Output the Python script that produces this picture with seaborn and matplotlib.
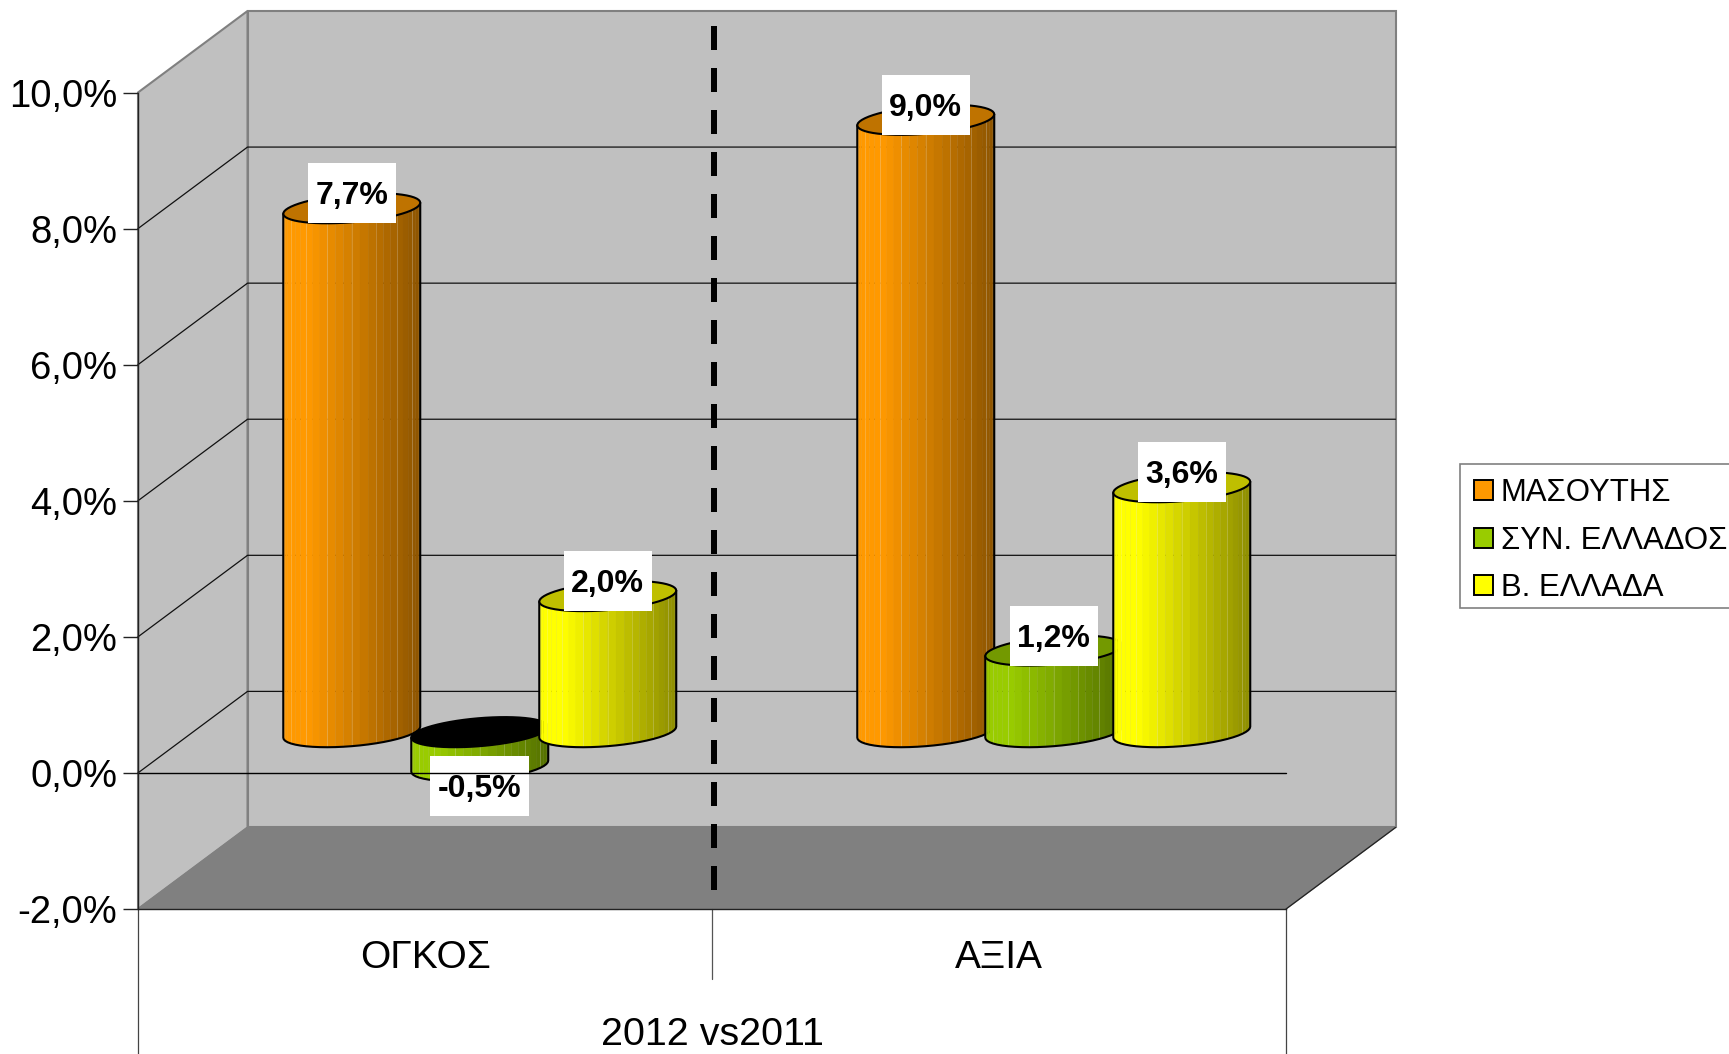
import numpy as np
import pandas as pd
import seaborn as sns
import matplotlib
matplotlib.use("Agg")
import matplotlib.pyplot as plt
from matplotlib.colors import to_rgb
from matplotlib.patches import Rectangle
from matplotlib.transforms import IdentityTransform

# Data
measures = ["ΟΓΚΟΣ", "ΑΞΙΑ"]
regions = ["ΜΑΣΟΥΤΗΣ", "ΣΥΝ. ΕΛΛΑΔΟΣ", "Β. ΕΛΛΑΔΑ"]
masoutis = [7.7, 9.0]
syn_ellados = [-0.5, 1.2]
v_ellada = [2.0, 3.6]
y_ticks = [-2, 0, 2, 4, 6, 8, 10]
region_colors = ["#FF9900", "#99CC00", "#FFFF00"]
x_title = "2012 vs2011"

# fake 3d box, all in data units
DEPTH_X = 0.1908
DEPTH_Y = 1.198
ELL_B = 0.206
ELL_S = 0.081
WALL = "#C0C0C0"
FLOOR = "#808080"
N_FACETS = 26


def pct(v):
    return f"{v:.1f}%".replace(".", ",")


def cylinder(ax, cx, half, lo, hi, color, top_color, z):
    # body as vertical facets, darker to the right
    base = np.array(to_rgb(color))
    t = np.linspace(np.pi, 2 * np.pi, N_FACETS + 1)
    xs = cx + half * np.cos(t)
    low = lo + ELL_B * np.sin(t) + ELL_S * np.cos(t)
    high = hi + ELL_B * np.sin(t) + ELL_S * np.cos(t)
    for i in range(N_FACETS):
        f = (xs[i] + xs[i + 1] - 2 * (cx - half)) / (4 * half)
        shade = 1 if f < 0.18 else 1 - (f - 0.18) / 0.82 * 0.45
        ax.fill([xs[i], xs[i + 1], xs[i + 1], xs[i]],
                [low[i], low[i + 1], high[i + 1], high[i]],
                color=base * shade, lw=0.2, zorder=z, clip_on=False)
        if i % 3 == 1:
            ax.plot([xs[i], xs[i]], [low[i], high[i]], color="white", lw=0.5,
                    alpha=0.25, zorder=z, clip_on=False)
    ax.plot(np.r_[xs[0], xs, xs[-1]], np.r_[high[0], low, high[-1]],
            color="black", lw=1.5, zorder=z, clip_on=False)
    # top lid
    t2 = np.linspace(0, 2 * np.pi, 60)
    ax.fill(cx + half * np.cos(t2),
            hi + ELL_B * np.sin(t2) + ELL_S * np.cos(t2),
            facecolor=top_color, edgecolor="black", lw=1.5, zorder=z, clip_on=False)


sns.set_style("white")
plt.rcParams["font.family"] = "Liberation Sans"
plt.rcParams["text.color"] = "black"
plt.rcParams["axes.labelcolor"] = "black"
plt.rcParams["xtick.color"] = "black"
plt.rcParams["ytick.color"] = "black"

df = pd.DataFrame({
    "measure": measures * 3,
    "region": np.repeat(regions, 2),
    "value": masoutis + syn_ellados + v_ellada,
})

fig = plt.figure(figsize=(17.29, 10.54), dpi=100)
ax = fig.add_axes([138 / 1729, (1054 - 909) / 1054, 1148 / 1729, 816.5 / 1054])
ax.patch.set_visible(False)

sns.barplot(data=df, x="measure", y="value", hue="region", hue_order=regions,
            palette=region_colors, saturation=1, width=0.669, errorbar=None,
            edgecolor="black", linewidth=1.4, ax=ax)
ax.set_xlim(-0.5, 1.5)
ax.set_ylim(y_ticks[0], y_ticks[-1])
x0, x1 = ax.get_xlim()
y0, y1 = ax.get_ylim()

# walls and floor
ax.fill([x0 + DEPTH_X, x1 + DEPTH_X, x1 + DEPTH_X, x0 + DEPTH_X],
        [y0 + DEPTH_Y, y0 + DEPTH_Y, y1 + DEPTH_Y, y1 + DEPTH_Y],
        facecolor=WALL, edgecolor=FLOOR, lw=1.5, zorder=0.5, clip_on=False)
ax.fill([x0, x0 + DEPTH_X, x0 + DEPTH_X, x0],
        [y0, y0 + DEPTH_Y, y1 + DEPTH_Y, y1],
        facecolor=WALL, edgecolor=FLOOR, lw=1.5, zorder=0.5, clip_on=False)
ax.fill([x0, x1, x1 + DEPTH_X, x0 + DEPTH_X],
        [y0, y0, y0 + DEPTH_Y, y0 + DEPTH_Y],
        facecolor=FLOOR, edgecolor=FLOOR, lw=1, zorder=0.6, clip_on=False)
ax.plot([x1, x1 + DEPTH_X], [y0, y0 + DEPTH_Y], color="#222222", lw=0.9,
        zorder=0.7, clip_on=False)

# gridlines on the back and side wall
for y in y_ticks[1:-1]:
    ax.plot([x0, x0 + DEPTH_X, x1 + DEPTH_X], [y, y + DEPTH_Y, y + DEPTH_Y],
            color="#111111", lw=0.9, zorder=0.8, clip_on=False)

# swap the flat seaborn bars for cylinders, left to right
bars = [b for c in ax.containers for b in c]
for b in bars:
    b.set_visible(False)
bars = sorted(bars, key=lambda b: b.get_x())
renderer = fig.canvas.get_renderer()
px_x = ax.transData.transform((1, 0))[0] - ax.transData.transform((0, 0))[0]
px_y = ax.transData.transform((0, 1))[1] - ax.transData.transform((0, 0))[1]
for i, b in enumerate(bars):
    v = b.get_y() + b.get_height()
    cx = b.get_x() + b.get_width() / 2 + DEPTH_X / 2
    half = b.get_width() / 2 * 1.07
    color = to_rgb(b.get_facecolor()[:3])
    lo, hi = min(v, 0) + DEPTH_Y / 2, max(v, 0) + DEPTH_Y / 2
    top = "black" if v < 0 else np.array(color) * 0.75
    cylinder(ax, cx, half, lo, hi, color, top, 3 + i * 0.01)
    ly = hi + 15 / px_y if v >= 0 else lo - 20 / px_y
    txt = ax.text(cx, ly - 3 / px_y, pct(v), ha="center", va="center", fontsize=23,
                  fontweight="bold", color="black", zorder=5.1, clip_on=False)
    ext = txt.get_window_extent(renderer)
    w = (ext.width + 15) / px_x
    h = 60 / px_y
    ax.add_patch(Rectangle((cx - w / 2, ly - h / 2), w, h, facecolor="white",
                           edgecolor="none", zorder=5, clip_on=False))

# front zero line and the divider
ax.plot([x0, x1], [0, 0], color="black", lw=1.0, zorder=6, clip_on=False)
ax.plot([0.503, 0.503], [10.98, -1.73], color="black", lw=4.32, ls=(0, (4, 3)),
        dash_capstyle="butt", zorder=7, clip_on=False)

# category separators under the box
ax.plot([0.5, 0.5], [y0, -3.03], color="#555555", lw=0.9, clip_on=False)
for x in [x0, x1]:
    ax.plot([x, x], [y0, -4.2], color="#444444", lw=0.9, clip_on=False)

sns.despine(ax=ax, top=True, right=True)
for s in ["left", "bottom"]:
    ax.spines[s].set_color("#222222")
    ax.spines[s].set_linewidth(1.0)
    ax.spines[s].set_zorder(6)

ax.set_yticks(y_ticks)
ax.set_yticklabels([pct(v) for v in y_ticks], fontsize=27.5)
ax.tick_params(axis="y", left=True, length=10.8, width=1, color="#222222", pad=4)
ax.set_ylabel("")
ax.tick_params(axis="x", bottom=False, length=0, pad=22, labelsize=28)
ax.set_xlabel(x_title, fontsize=28.4, va="center")
ax.xaxis.set_label_coords(0.5, -126 / 816.5)

# legend frame drawn apart: it runs off the right edge, and is tighter at the bottom
sns.move_legend(ax, "upper left", bbox_to_anchor=(1460, 1054 - 464),
                bbox_transform=IdentityTransform(), title=None, frameon=False,
                fontsize=22.4, handlelength=0.61, handleheight=0.61,
                handletextpad=0.245, labelspacing=0.56, borderpad=0.46, borderaxespad=0)
ax.get_legend().set_zorder(10)
ax.add_patch(Rectangle((1460, 1054 - 608), 300, 144, transform=IdentityTransform(),
                       facecolor="white", edgecolor=FLOOR, lw=1.2, zorder=9, clip_on=False))

fig.savefig("out.png", dpi=100)
